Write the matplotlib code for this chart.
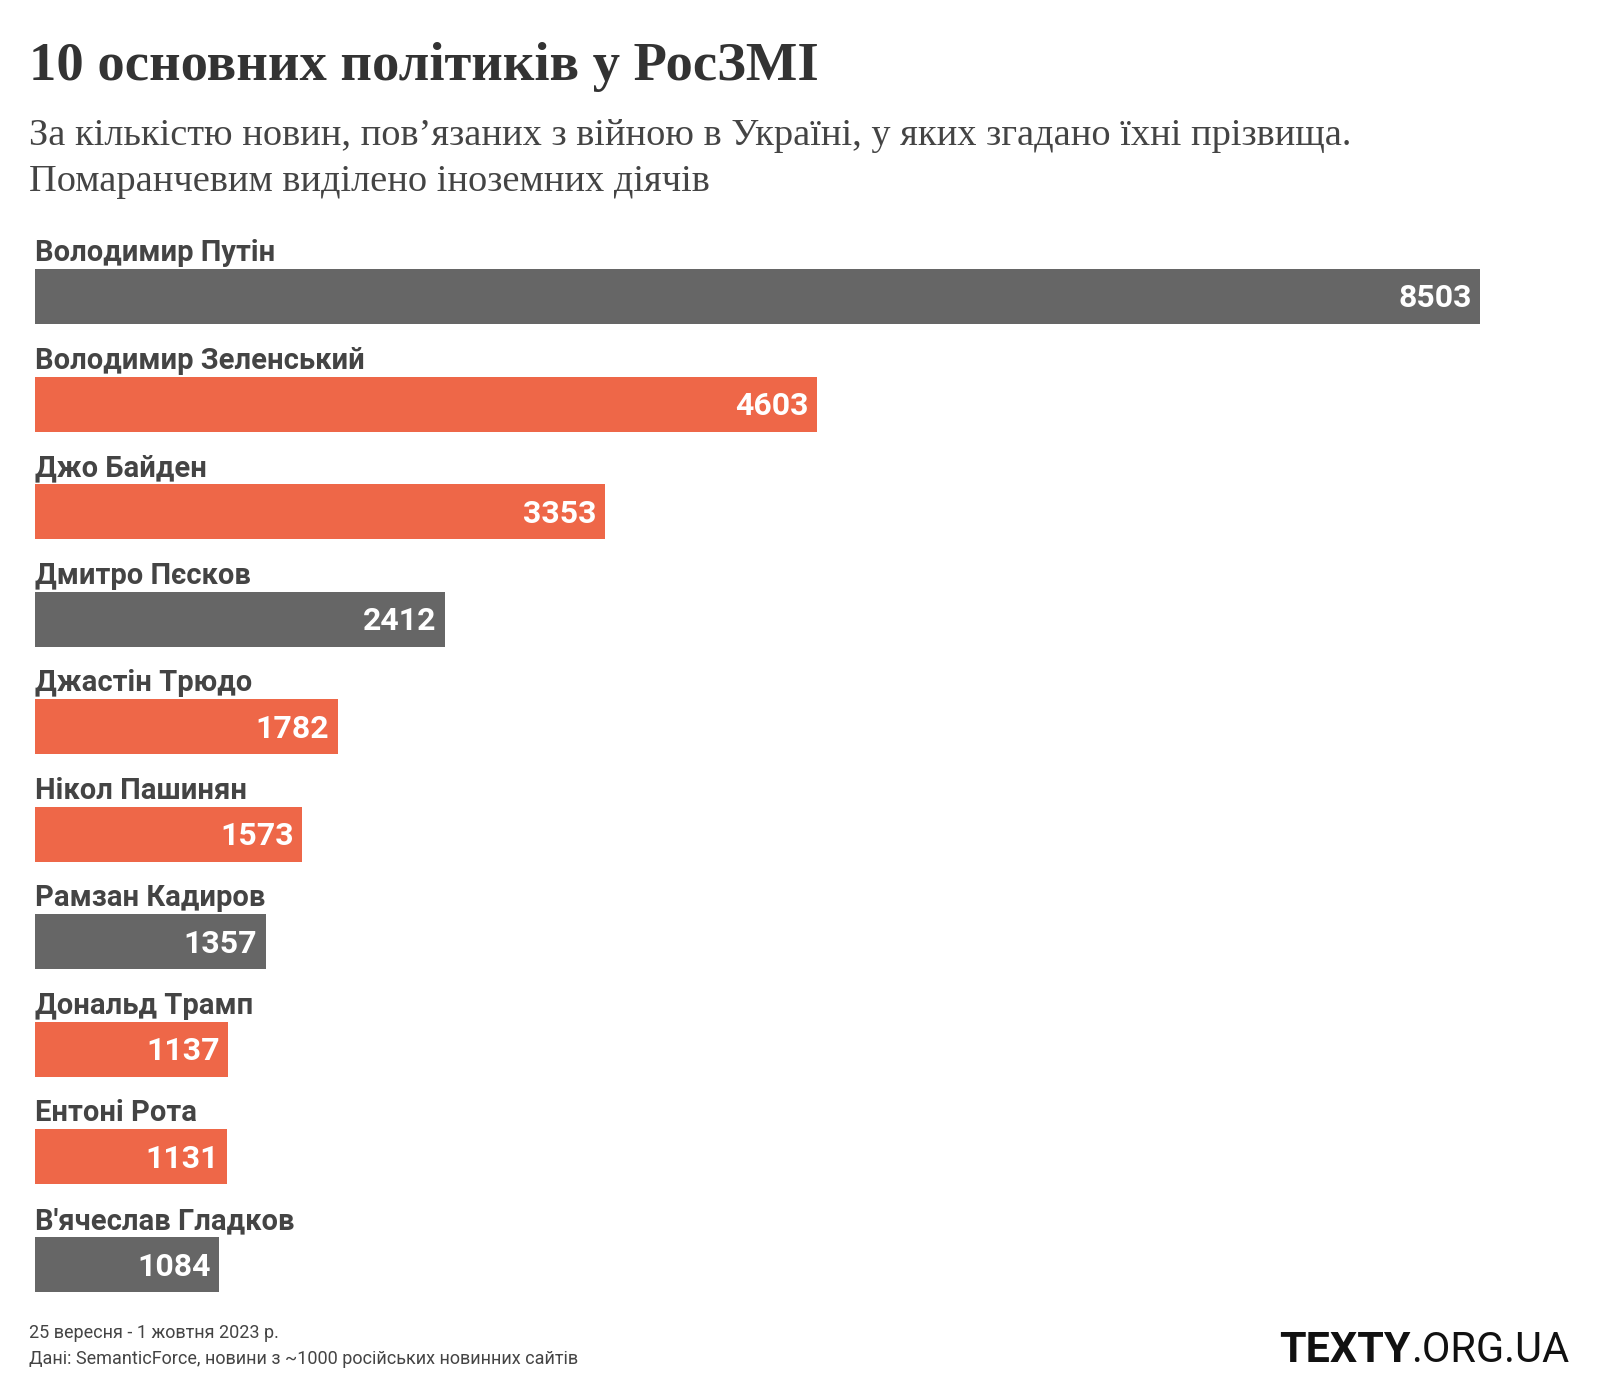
import matplotlib
matplotlib.use("Agg")
import matplotlib.pyplot as plt

# data
names = ["Володимир Путін", "Володимир Зеленський", "Джо Байден", "Дмитро Пєсков",
         "Джастін Трюдо", "Нікол Пашинян", "Рамзан Кадиров", "Дональд Трамп",
         "Ентоні Рота", "В'ячеслав Гладков"]
counts = [8503, 4603, 3353, 2412, 1782, 1573, 1357, 1137, 1131, 1084]
foreign = [False, True, True, False, True, True, False, True, True, False]

GRAY = "#666666"
ORANGE = "#ee6748"
W, H = 1600, 1400

fig = plt.figure(figsize=(16, 14), dpi=100)
fig.patch.set_facecolor("white")

def px(x, y):
    return x / W, 1 - y / H

serif = ["Liberation Serif", "DejaVu Serif"]
sans = ["Roboto", "DejaVu Sans"]

fig.text(*px(29, 80), "10 основних політиків у РосЗМІ", family=serif,
         fontweight="bold", fontsize=39.3, color="#333333", va="baseline")
fig.text(*px(29, 145), "За кількістю новин, пов\u02bcязаних з війною в Україні, у яких згадано їхні прізвища.",
         family=serif, fontsize=27.6, color="#444444", va="baseline")
fig.text(*px(29, 191), "Помаранчевим виділено іноземних діячів",
         family=serif, fontsize=27.6, color="#444444", va="baseline")

# bars
step = 107.6
bh = 55 / step
top, bottom = 269, 1292
left, right = 35, 1480
ax = fig.add_axes([left / W, 1 - bottom / H, (right - left) / W, (bottom - top) / H])
ypos = list(range(len(names)))
colors = [ORANGE if f else GRAY for f in foreign]
ax.barh(ypos, counts, height=bh, color=colors)
ax.set_xlim(0, max(counts))
ax.set_ylim(len(names) - 1 + bh / 2, -bh / 2)
ax.axis("off")

for i, (n, c) in enumerate(zip(names, counts)):
    ax.text(0, i - bh / 2 - 8 / step, n, family=sans, fontweight="bold", fontsize=21,
            color="#444444", va="baseline", ha="left", clip_on=False)
    ax.text(c - 50, i + 11 / step, str(c), family=sans, fontweight="bold", fontsize=23,
            color="white", va="baseline", ha="right")

# footer
fig.text(*px(29, 1338), "25 вересня - 1 жовтня 2023 р.", family=sans, fontsize=13,
         color="#444444", va="baseline")
fig.text(*px(29, 1364), "Дані: SemanticForce, новини з ~1000 російських новинних сайтів",
         family=sans, fontsize=13, color="#444444", va="baseline")

t2 = fig.text(*px(1569, 1362), ".ORG.UA", family=sans, fontweight="normal", fontsize=30,
              color="#111111", va="baseline", ha="right")
fig.canvas.draw()
bb = t2.get_window_extent()
fig.text(bb.x0 / W, 1 - 1362 / H, "TEXTY", family=sans, fontweight="bold", fontsize=31,
         color="#111111", va="baseline", ha="right")

fig.savefig("out.png", dpi=100, facecolor="white")
